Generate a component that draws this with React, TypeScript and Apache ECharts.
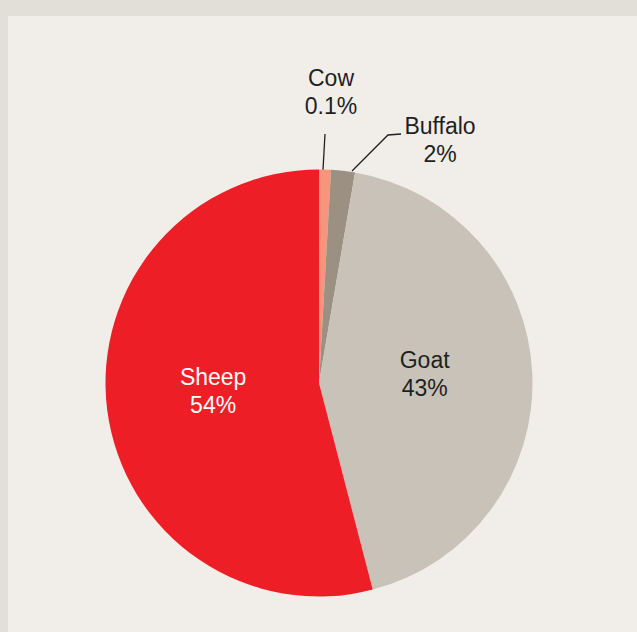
import React, { useEffect, useRef } from "react";
import * as echarts from "echarts";

const categories = ["Cow", "Buffalo", "Goat", "Sheep"];
// slice sizes as drawn in the reference (percent of the full circle)
const values = [0.9, 1.8, 43.25, 54.05];
// label texts shown in the reference
const shareLabels = ["0.1%", "2%", "43%", "54%"];
const colors = ["#f6957b", "#9c9083", "#c9c2b8", "#ee1e26"];
const labelColors = ["#1f1f1f", "#1f1f1f", "#1f1f1f", "#ffffff"];
const outsideIdx = [0, 1];

export default function App() {
  const ref = useRef<HTMLDivElement>(null);
  useEffect(() => {
    if (!ref.current) return;
    const chart = echarts.init(ref.current, undefined, { renderer: "svg" });
    const font = "'Liberation Sans', Arial, Helvetica, sans-serif";
    const data = categories.map((name, i) => {
      const outside = outsideIdx.includes(i);
      return {
        name,
        value: values[i],
        itemStyle: { color: colors[i] },
        label: {
          show: true,
          position: outside ? "outside" : "inner",
          color: labelColors[i],
        },
        labelLine: {
          show: outside,
          lineStyle: { color: "#231f20", width: 1.3 },
        },
      };
    });
    chart.setOption({
      animation: false,
      backgroundColor: "#e2dfd9",
      graphic: [
        {
          type: "rect",
          z: -10,
          silent: true,
          shape: { x: 8, y: 16, width: 640, height: 630 },
          style: { fill: "#f1eee9" },
        },
      ],
      series: [
        {
          type: "pie",
          center: [319, 383],
          radius: 213.5,
          startAngle: 90,
          clockwise: true,
          avoidLabelOverlap: false,
          itemStyle: { borderWidth: 0 },
          label: {
            fontFamily: font,
            fontSize: 23,
            lineHeight: 28,
            align: "center",
            formatter: (p: any) => `${p.name}\n${shareLabels[p.dataIndex]}`,
          },
          labelLine: { length: 30, length2: 10 },
          labelLayout: (p: any) => {
            if (p.dataIndex === 0) {
              return {
                x: 331,
                y: 92,
                align: "center",
                verticalAlign: "middle",
                labelLinePoints: [
                  [323, 170],
                  [324, 152],
                  [325, 134],
                ],
              };
            }
            if (p.dataIndex === 1) {
              return {
                x: 440,
                y: 140,
                align: "center",
                verticalAlign: "middle",
                labelLinePoints: [
                  [352, 171],
                  [388, 135],
                  [401, 134],
                ],
              };
            }
            if (p.dataIndex === 2) return { dx: -4, dy: -4 };
            if (p.dataIndex === 3) return { dx: 3, dy: -6 };
            return undefined;
          },
          data,
        },
      ],
    });
    return () => chart.dispose();
  }, []);
  return (
    <div
      ref={ref}
      style={{ position: "absolute", left: 0, top: 0, width: 637, height: 632 }}
    />
  );
}
